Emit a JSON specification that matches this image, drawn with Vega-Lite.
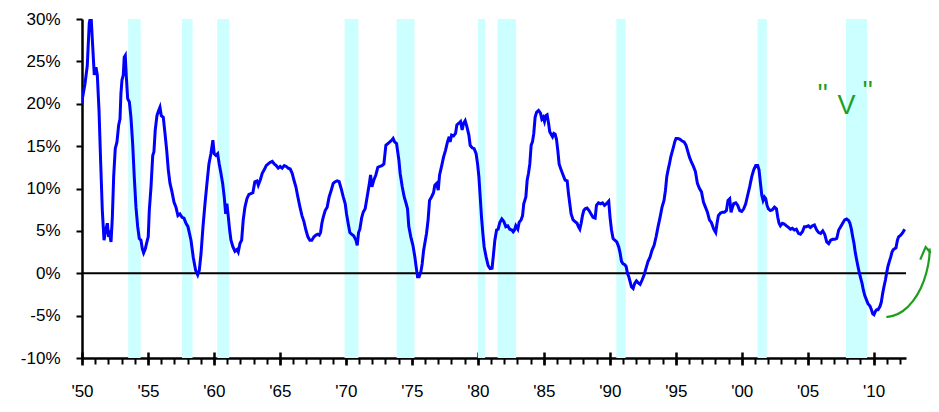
{
  "$schema": "https://vega.github.io/schema/vega-lite/v6.json",
  "width": 824,
  "height": 339,
  "autosize": {"type": "none"},
  "padding": {"left": 82, "top": 19, "right": 33, "bottom": 54},
  "background": "white",
  "config": {"view": {"stroke": null}},
  "resolve": {"scale": {"x": "independent"}, "axis": {"x": "independent"}},
  "datasets": {
    "recessions": [
      {"start": 1953.5, "end": 1954.45},
      {"start": 1957.58, "end": 1958.38},
      {"start": 1960.25, "end": 1961.15},
      {"start": 1969.9, "end": 1970.95},
      {"start": 1973.85, "end": 1975.2},
      {"start": 1980.0, "end": 1980.55},
      {"start": 1981.5, "end": 1982.9},
      {"start": 1990.5, "end": 1991.2},
      {"start": 2001.2, "end": 2001.9},
      {"start": 2007.9, "end": 2009.5}
    ],
    "series": [
      {"t":1950.0,"v":20.0},{"t":1950.05,"v":20.8},{"t":1950.23,"v":22.4},{"t":1950.4,"v":24.5},{"t":1950.55,"v":29.5},{"t":1950.68,"v":30.5},{"t":1950.8,"v":27.1},{"t":1950.93,"v":23.4},{"t":1951.06,"v":24.3},{"t":1951.16,"v":23.4},{"t":1951.29,"v":19.2},{"t":1951.41,"v":13.3},{"t":1951.54,"v":7.4},{"t":1951.67,"v":3.9},{"t":1951.8,"v":5.1},{"t":1951.92,"v":5.9},{"t":1952.02,"v":4.3},{"t":1952.1,"v":4.6},{"t":1952.2,"v":3.7},{"t":1952.3,"v":6.6},{"t":1952.4,"v":11.4},{"t":1952.52,"v":14.7},{"t":1952.65,"v":15.5},{"t":1952.78,"v":17.5},{"t":1952.88,"v":18.2},{"t":1952.95,"v":21.2},{"t":1953.03,"v":22.8},{"t":1953.13,"v":23.4},{"t":1953.2,"v":25.5},{"t":1953.28,"v":25.7},{"t":1953.36,"v":23.2},{"t":1953.46,"v":20.6},{"t":1953.59,"v":20.2},{"t":1953.71,"v":18.4},{"t":1953.84,"v":15.3},{"t":1953.96,"v":11.4},{"t":1954.09,"v":7.8},{"t":1954.22,"v":5.5},{"t":1954.34,"v":4.1},{"t":1954.47,"v":3.9},{"t":1954.57,"v":2.9},{"t":1954.67,"v":2.4},{"t":1954.8,"v":2.9},{"t":1954.92,"v":3.7},{"t":1955.02,"v":4.3},{"t":1955.1,"v":7.4},{"t":1955.23,"v":10.2},{"t":1955.36,"v":13.9},{"t":1955.45,"v":14.3},{"t":1955.55,"v":16.9},{"t":1955.68,"v":18.6},{"t":1955.81,"v":19.2},{"t":1955.91,"v":19.6},{"t":1956.01,"v":18.6},{"t":1956.16,"v":18.4},{"t":1956.29,"v":16.5},{"t":1956.42,"v":14.5},{"t":1956.54,"v":12.2},{"t":1956.67,"v":10.6},{"t":1956.82,"v":9.6},{"t":1956.97,"v":8.4},{"t":1957.12,"v":7.8},{"t":1957.27,"v":6.8},{"t":1957.42,"v":7.0},{"t":1957.58,"v":6.6},{"t":1957.73,"v":6.5},{"t":1957.88,"v":5.9},{"t":1958.03,"v":5.5},
      {"t":1958.26,"v":3.9},{"t":1958.43,"v":1.9},{"t":1958.61,"v":0.35},{"t":1958.77,"v":-0.2},{"t":1958.89,"v":0.35},{"t":1959.02,"v":2.3},{"t":1959.17,"v":5.5},{"t":1959.32,"v":8.2},{"t":1959.47,"v":10.6},{"t":1959.62,"v":12.9},{"t":1959.77,"v":14.1},{"t":1959.92,"v":15.7},{"t":1960.02,"v":14.1},{"t":1960.15,"v":13.9},{"t":1960.28,"v":14.1},{"t":1960.4,"v":12.9},{"t":1960.53,"v":11.8},{"t":1960.66,"v":10.6},{"t":1960.78,"v":9.0},{"t":1960.89,"v":7.0},{"t":1960.98,"v":8.2},{"t":1961.08,"v":6.8},{"t":1961.19,"v":5.1},{"t":1961.29,"v":3.9},{"t":1961.44,"v":3.1},{"t":1961.59,"v":2.6},{"t":1961.74,"v":2.8},{"t":1961.84,"v":2.5},{"t":1961.97,"v":3.5},{"t":1962.1,"v":3.9},{"t":1962.22,"v":6.3},{"t":1962.35,"v":7.8},{"t":1962.5,"v":8.8},{"t":1962.65,"v":9.3},{"t":1962.8,"v":9.4},{"t":1962.95,"v":9.5},{"t":1963.1,"v":10.8},{"t":1963.26,"v":10.9},{"t":1963.36,"v":10.4},{"t":1963.51,"v":11.0},{"t":1963.66,"v":11.8},{"t":1963.81,"v":12.2},{"t":1963.96,"v":12.7},{"t":1964.11,"v":12.9},{"t":1964.27,"v":13.1},{"t":1964.42,"v":13.2},{"t":1964.57,"v":12.9},{"t":1964.72,"v":12.7},{"t":1964.87,"v":12.4},{"t":1965.02,"v":12.6},{"t":1965.17,"v":12.4},{"t":1965.33,"v":12.7},{"t":1965.48,"v":12.6},{"t":1965.63,"v":12.4},{"t":1965.78,"v":12.3},{"t":1965.93,"v":11.8},
      {"t":1966.06,"v":11.0},{"t":1966.21,"v":10.2},{"t":1966.36,"v":9.0},{"t":1966.52,"v":7.8},{"t":1966.67,"v":6.8},{"t":1966.82,"v":6.1},{"t":1966.97,"v":5.1},{"t":1967.12,"v":4.3},{"t":1967.27,"v":3.9},{"t":1967.42,"v":3.9},{"t":1967.58,"v":4.3},{"t":1967.73,"v":4.5},{"t":1967.88,"v":4.6},{"t":1967.98,"v":4.5},{"t":1968.08,"v":4.8},{"t":1968.18,"v":5.9},{"t":1968.28,"v":6.6},{"t":1968.43,"v":7.4},{"t":1968.58,"v":7.8},{"t":1968.73,"v":9.0},{"t":1968.89,"v":9.8},{"t":1969.04,"v":10.6},{"t":1969.19,"v":10.8},{"t":1969.34,"v":10.9},{"t":1969.49,"v":10.8},{"t":1969.64,"v":10.0},{"t":1969.8,"v":9.0},{"t":1969.95,"v":8.2},{"t":1970.05,"v":7.0},{"t":1970.17,"v":5.9},{"t":1970.3,"v":4.8},{"t":1970.45,"v":4.6},{"t":1970.6,"v":4.4},{"t":1970.76,"v":3.9},{"t":1970.86,"v":3.3},{"t":1970.96,"v":4.8},{"t":1971.06,"v":5.2},{"t":1971.19,"v":6.5},{"t":1971.31,"v":7.2},{"t":1971.46,"v":7.6},{"t":1971.61,"v":9.0},{"t":1971.76,"v":10.4},{"t":1971.87,"v":11.6},{"t":1971.97,"v":10.2},{"t":1972.12,"v":11.0},{"t":1972.27,"v":11.6},{"t":1972.42,"v":12.5},{"t":1972.58,"v":12.6},{"t":1972.73,"v":12.7},{"t":1972.88,"v":12.9},{"t":1973.03,"v":15.1},{"t":1973.18,"v":15.3},{"t":1973.33,"v":15.5},{"t":1973.48,"v":15.7},{"t":1973.58,"v":15.9},{"t":1973.69,"v":15.5},{"t":1973.84,"v":15.3},
      {"t":1974.02,"v":13.3},{"t":1974.11,"v":11.8},{"t":1974.27,"v":10.2},{"t":1974.42,"v":9.0},{"t":1974.57,"v":8.2},{"t":1974.67,"v":7.6},{"t":1974.77,"v":5.5},{"t":1974.92,"v":4.3},{"t":1975.08,"v":3.3},{"t":1975.23,"v":1.9},{"t":1975.33,"v":0.7},{"t":1975.43,"v":-0.4},{"t":1975.55,"v":-0.4},{"t":1975.68,"v":0.15},{"t":1975.78,"v":1.1},{"t":1975.89,"v":2.7},{"t":1975.98,"v":3.5},{"t":1976.11,"v":4.7},{"t":1976.23,"v":6.3},{"t":1976.34,"v":8.6},{"t":1976.49,"v":9.0},{"t":1976.64,"v":9.5},{"t":1976.74,"v":10.4},{"t":1976.87,"v":10.6},{"t":1977.0,"v":9.8},{"t":1977.1,"v":11.6},{"t":1977.25,"v":12.6},{"t":1977.4,"v":13.7},{"t":1977.55,"v":14.5},{"t":1977.7,"v":15.5},{"t":1977.83,"v":16.1},{"t":1977.9,"v":15.5},{"t":1978.01,"v":16.3},{"t":1978.16,"v":16.2},{"t":1978.31,"v":16.5},{"t":1978.41,"v":17.5},{"t":1978.56,"v":17.7},{"t":1978.69,"v":17.9},{"t":1978.81,"v":16.9},{"t":1978.92,"v":17.7},{"t":1979.04,"v":18.0},{"t":1979.17,"v":17.3},{"t":1979.32,"v":16.3},{"t":1979.42,"v":15.1},{"t":1979.57,"v":14.8},{"t":1979.72,"v":14.7},{"t":1979.87,"v":14.1},{"t":1979.98,"v":12.9},{"t":1980.08,"v":11.4},{"t":1980.18,"v":9.0},{"t":1980.28,"v":6.6},{"t":1980.38,"v":4.7},{"t":1980.48,"v":3.1},{"t":1980.63,"v":1.9},{"t":1980.78,"v":0.9},{"t":1980.93,"v":0.55},{"t":1981.08,"v":0.6},{"t":1981.19,"v":2.3},{"t":1981.29,"v":3.9},{"t":1981.42,"v":5.1},{"t":1981.54,"v":5.2},
      {"t":1981.67,"v":6.0},{"t":1981.82,"v":6.4},{"t":1981.97,"v":6.1},{"t":1982.12,"v":5.5},{"t":1982.27,"v":5.6},{"t":1982.42,"v":5.2},{"t":1982.58,"v":5.1},{"t":1982.68,"v":4.9},{"t":1982.78,"v":5.1},{"t":1982.88,"v":5.6},{"t":1983.03,"v":5.2},{"t":1983.13,"v":6.0},{"t":1983.28,"v":6.3},{"t":1983.39,"v":6.8},{"t":1983.48,"v":8.2},{"t":1983.64,"v":9.0},{"t":1983.74,"v":11.0},{"t":1983.84,"v":11.8},{"t":1983.94,"v":12.9},{"t":1984.04,"v":15.1},{"t":1984.14,"v":15.5},{"t":1984.24,"v":16.5},{"t":1984.34,"v":18.4},{"t":1984.45,"v":19.0},{"t":1984.6,"v":19.2},{"t":1984.75,"v":18.9},{"t":1984.85,"v":18.2},{"t":1984.95,"v":18.4},{"t":1985.05,"v":17.9},{"t":1985.15,"v":18.6},{"t":1985.25,"v":18.7},{"t":1985.36,"v":17.7},{"t":1985.45,"v":16.7},{"t":1985.55,"v":16.4},{"t":1985.66,"v":16.1},{"t":1985.76,"v":16.5},{"t":1985.86,"v":16.4},{"t":1985.96,"v":15.8},{"t":1986.06,"v":14.5},{"t":1986.16,"v":12.9},{"t":1986.31,"v":12.2},{"t":1986.46,"v":11.6},{"t":1986.61,"v":11.0},{"t":1986.77,"v":10.9},{"t":1986.87,"v":9.4},{"t":1986.97,"v":8.2},{"t":1987.07,"v":7.0},{"t":1987.22,"v":6.3},{"t":1987.37,"v":6.1},{"t":1987.52,"v":5.9},{"t":1987.62,"v":5.5},{"t":1987.73,"v":5.2},{"t":1987.83,"v":5.9},{"t":1987.93,"v":6.8},{"t":1988.03,"v":7.4},{"t":1988.13,"v":7.6},{"t":1988.28,"v":7.7},{"t":1988.43,"v":7.4},{"t":1988.58,"v":7.0},{"t":1988.73,"v":6.6},{"t":1988.89,"v":6.5},{"t":1988.99,"v":8.0},{"t":1989.14,"v":8.3},{"t":1989.3,"v":8.2},{"t":1989.45,"v":8.3},{"t":1989.6,"v":8.0},{"t":1989.75,"v":8.2},{"t":1989.92,"v":8.5},
      {"t":1990.02,"v":6.6},{"t":1990.13,"v":5.1},{"t":1990.25,"v":4.1},{"t":1990.38,"v":3.9},{"t":1990.53,"v":3.7},{"t":1990.68,"v":3.1},{"t":1990.78,"v":2.4},{"t":1990.89,"v":1.4},{"t":1991.01,"v":1.1},{"t":1991.14,"v":1.0},{"t":1991.24,"v":0.8},{"t":1991.34,"v":0.0},{"t":1991.44,"v":-0.4},{"t":1991.54,"v":-1.0},{"t":1991.64,"v":-1.6},{"t":1991.77,"v":-1.8},{"t":1991.89,"v":-1.2},{"t":1992.02,"v":-0.9},{"t":1992.14,"v":-1.1},{"t":1992.3,"v":-1.3},{"t":1992.45,"v":-0.8},{"t":1992.6,"v":-0.2},{"t":1992.75,"v":0.6},{"t":1992.9,"v":1.4},{"t":1993.05,"v":1.9},{"t":1993.2,"v":2.7},{"t":1993.36,"v":3.3},{"t":1993.51,"v":4.3},{"t":1993.66,"v":5.5},{"t":1993.81,"v":6.6},{"t":1993.96,"v":7.8},{"t":1994.11,"v":8.6},{"t":1994.22,"v":9.8},{"t":1994.32,"v":11.4},{"t":1994.42,"v":12.2},{"t":1994.52,"v":12.9},{"t":1994.62,"v":13.7},{"t":1994.72,"v":14.3},{"t":1994.83,"v":14.9},{"t":1994.92,"v":15.5},{"t":1995.02,"v":15.9},{"t":1995.17,"v":15.9},{"t":1995.33,"v":15.8},{"t":1995.48,"v":15.6},{"t":1995.63,"v":15.5},{"t":1995.78,"v":15.1},{"t":1995.89,"v":14.5},{"t":1996.04,"v":13.7},{"t":1996.19,"v":13.1},{"t":1996.34,"v":12.6},{"t":1996.49,"v":12.0},{"t":1996.64,"v":10.6},{"t":1996.8,"v":10.0},{"t":1996.95,"v":9.6},{"t":1997.1,"v":8.4},{"t":1997.25,"v":7.8},{"t":1997.4,"v":7.2},{"t":1997.55,"v":6.3},{"t":1997.7,"v":6.0},
      {"t":1997.88,"v":5.2},{"t":1998.03,"v":4.8},{"t":1998.13,"v":5.9},{"t":1998.23,"v":6.8},{"t":1998.39,"v":7.1},{"t":1998.54,"v":7.2},{"t":1998.69,"v":7.2},{"t":1998.84,"v":7.4},{"t":1998.96,"v":8.6},{"t":1999.09,"v":8.8},{"t":1999.19,"v":7.2},{"t":1999.3,"v":7.8},{"t":1999.39,"v":8.2},{"t":1999.55,"v":8.3},{"t":1999.7,"v":8.0},{"t":1999.85,"v":7.4},{"t":2000.0,"v":7.3},{"t":2000.15,"v":7.6},{"t":2000.3,"v":8.2},{"t":2000.45,"v":9.2},{"t":2000.6,"v":10.2},{"t":2000.76,"v":11.4},{"t":2000.91,"v":12.2},{"t":2001.06,"v":12.7},{"t":2001.21,"v":12.7},{"t":2001.31,"v":12.2},{"t":2001.42,"v":10.6},{"t":2001.52,"v":9.2},{"t":2001.62,"v":8.6},{"t":2001.72,"v":9.0},{"t":2001.82,"v":8.8},{"t":2001.92,"v":8.0},{"t":2002.02,"v":7.6},{"t":2002.17,"v":7.4},{"t":2002.33,"v":7.5},{"t":2002.48,"v":7.8},{"t":2002.63,"v":7.6},{"t":2002.73,"v":6.6},{"t":2002.83,"v":5.9},{"t":2002.93,"v":5.6},{"t":2003.08,"v":5.9},{"t":2003.23,"v":5.8},{"t":2003.39,"v":5.6},{"t":2003.54,"v":5.4},{"t":2003.69,"v":5.2},{"t":2003.84,"v":5.3},{"t":2003.99,"v":5.1},{"t":2004.14,"v":5.2},{"t":2004.3,"v":4.7},{"t":2004.45,"v":4.6},{"t":2004.6,"v":4.9},{"t":2004.75,"v":5.5},{"t":2004.9,"v":5.5},{"t":2005.05,"v":5.6},{"t":2005.2,"v":5.4},{"t":2005.36,"v":5.6},{"t":2005.51,"v":5.7},
      {"t":2005.68,"v":5.1},{"t":2005.83,"v":4.8},{"t":2005.98,"v":4.7},{"t":2006.14,"v":5.0},{"t":2006.29,"v":4.6},{"t":2006.44,"v":3.7},{"t":2006.59,"v":3.5},{"t":2006.74,"v":3.9},{"t":2006.89,"v":4.0},{"t":2007.05,"v":4.0},{"t":2007.2,"v":4.1},{"t":2007.35,"v":5.1},{"t":2007.5,"v":5.5},{"t":2007.65,"v":5.9},{"t":2007.8,"v":6.3},{"t":2007.95,"v":6.4},{"t":2008.11,"v":6.2},{"t":2008.2,"v":5.9},{"t":2008.31,"v":5.2},{"t":2008.41,"v":4.3},{"t":2008.51,"v":3.5},{"t":2008.61,"v":2.4},{"t":2008.71,"v":1.6},{"t":2008.81,"v":0.8},{"t":2008.92,"v":0.0},{"t":2009.02,"v":-0.6},{"t":2009.12,"v":-1.2},{"t":2009.22,"v":-2.0},{"t":2009.32,"v":-2.6},{"t":2009.47,"v":-3.2},{"t":2009.57,"v":-3.6},{"t":2009.73,"v":-3.9},{"t":2009.83,"v":-4.3},{"t":2009.93,"v":-4.8},{"t":2010.02,"v":-4.9},{"t":2010.13,"v":-4.5},{"t":2010.23,"v":-4.3},{"t":2010.33,"v":-4.3},{"t":2010.48,"v":-3.9},{"t":2010.58,"v":-3.4},{"t":2010.68,"v":-2.4},{"t":2010.78,"v":-1.6},{"t":2010.89,"v":-0.8},{"t":2010.98,"v":0.0},{"t":2011.08,"v":0.8},{"t":2011.19,"v":1.4},{"t":2011.29,"v":1.9},{"t":2011.39,"v":2.5},{"t":2011.49,"v":2.8},{"t":2011.59,"v":2.9},{"t":2011.69,"v":3.0},{"t":2011.8,"v":3.9},{"t":2011.89,"v":4.3},{"t":2012.05,"v":4.5},{"t":2012.2,"v":4.8},{"t":2012.35,"v":5.2}
    ],
    "arrowCurve": [
      {"ax": 2010.96, "ay": -5.16, "o": 1},
      {"ax": 2011.46, "ay": -5.07, "o": 2},
      {"ax": 2012.22, "ay": -4.57, "o": 3},
      {"ax": 2012.98, "ay": -3.39, "o": 4},
      {"ax": 2013.61, "ay": -1.81, "o": 5},
      {"ax": 2014.04, "ay": 0.15, "o": 6},
      {"ax": 2014.24, "ay": 1.92, "o": 7},
      {"ax": 2014.24, "ay": 2.91, "o": 8}
    ],
    "arrowHead": [
      {"ax": 2013.53, "ay": 1.61, "o": 1},
      {"ax": 2013.94, "ay": 3.1, "o": 2},
      {"ax": 2014.32, "ay": 2.39, "o": 3}
    ],
    "notes": [
      {"nx": 2006.14, "ny": 21.0, "txt": "''"},
      {"nx": 2007.95, "ny": 19.7, "txt": "V"},
      {"nx": 2009.55, "ny": 21.4, "txt": "''"}
    ]
  },
  "layer": [
    {
      "data": {"name": "recessions"},
      "mark": {"type": "rect", "color": "#CCFFFF"},
      "encoding": {
        "x": {
          "field": "start", "type": "quantitative", "title": null,
          "scale": {"domain": [1950, 2012.45], "nice": false, "zero": false},
          "axis": {
            "orient": "bottom",
            "values": [1950,1951,1952,1953,1954,1955,1956,1957,1958,1959,1960,1961,1962,1963,1964,1965,1966,1967,1968,1969,1970,1971,1972,1973,1974,1975,1976,1977,1978,1979,1980,1981,1982,1983,1984,1985,1986,1987,1988,1989,1990,1991,1992,1993,1994,1995,1996,1997,1998,1999,2000,2001,2002,2003,2004,2005,2006,2007,2008,2009,2010,2011,2012],
            "labels": false,
            "ticks": true,
            "tickSize": 6,
            "tickColor": "black",
            "tickWidth": 2,
            "domain": true,
            "domainColor": "black",
            "domainWidth": 2.5,
            "grid": false
          }
        },
        "x2": {"field": "end"}
      }
    },
    {
      "data": {"values": [{"z": 0}]},
      "mark": {"type": "rule", "color": "black", "strokeWidth": 2},
      "encoding": {
        "y": {"field": "z", "type": "quantitative", "title": null, "scale": {"domain": [-10, 30], "nice": false, "zero": false}}
      }
    },
    {
      "data": {"name": "series"},
      "mark": {"type": "line", "color": "#0000FF", "strokeWidth": 3, "clip": true},
      "encoding": {
        "x": {
          "field": "t", "type": "quantitative", "title": null,
          "scale": {"domain": [1950, 2012.45], "nice": false, "zero": false},
          "axis": {
            "orient": "bottom",
            "values": [1950,1955,1960,1965,1970,1975,1980,1985,1990,1995,2000,2005,2010],
            "offset": -6,
            "labels": false,
            "ticks": true,
            "tickSize": 13,
            "tickColor": "black",
            "tickWidth": 2.5,
            "domain": false,
            "grid": false
          }
        },
        "y": {
          "field": "v", "type": "quantitative", "title": null,
          "scale": {"domain": [-10, 30], "nice": false, "zero": false},
          "axis": {
            "values": [-10, -5, 0, 5, 10, 15, 20, 25, 30],
            "labelExpr": "datum.value + '%'",
            "labelFont": "Liberation Sans",
            "labelFontSize": 17,
            "labelColor": "black",
            "labelPadding": 16,
            "labelFlush": false,
            "labelOverlap": false,
            "tickSize": 6,
            "tickColor": "black",
            "tickWidth": 2,
            "domainColor": "black",
            "domainWidth": 2.5,
            "grid": false
          }
        }
      }
    },
    {
      "data": {"name": "arrowCurve"},
      "mark": {"type": "line", "color": "#1E9E1E", "strokeWidth": 2.2, "interpolate": "basis", "clip": false},
      "encoding": {
        "x": {
          "field": "ax", "type": "quantitative", "title": null,
          "scale": {"domain": [1950, 2012.45], "nice": false, "zero": false},
          "axis": {
            "orient": "bottom",
            "values": [1950,1955,1960,1965,1970,1975,1980,1985,1990,1995,2000,2005,2010],
            "labelExpr": "\"'\" + substring(toString(datum.value), 2, 4)",
            "labelOverlap": false,
            "labelFlush": false,
            "labelFont": "Liberation Sans",
            "labelFontSize": 17,
            "labelColor": "black",
            "labelPadding": 25,
            "ticks": false,
            "domain": false,
            "grid": false
          }
        },
        "y": {"field": "ay", "type": "quantitative", "title": null, "scale": {"domain": [-10, 30], "nice": false, "zero": false}},
        "order": {"field": "o"}
      }
    },
    {
      "data": {"name": "arrowHead"},
      "mark": {"type": "line", "color": "#1E9E1E", "strokeWidth": 2.2, "clip": false},
      "encoding": {
        "x": {"field": "ax", "type": "quantitative", "title": null, "scale": {"domain": [1950, 2012.45], "nice": false, "zero": false}, "axis": null},
        "y": {"field": "ay", "type": "quantitative", "title": null, "scale": {"domain": [-10, 30], "nice": false, "zero": false}},
        "order": {"field": "o"}
      }
    },
    {
      "data": {"name": "notes"},
      "mark": {"type": "text", "color": "#1E9E1E", "font": "Liberation Sans", "fontSize": 27, "baseline": "middle", "align": "center", "clip": false},
      "encoding": {
        "x": {"field": "nx", "type": "quantitative", "title": null, "scale": {"domain": [1950, 2012.45], "nice": false, "zero": false}, "axis": null},
        "y": {"field": "ny", "type": "quantitative", "title": null, "scale": {"domain": [-10, 30], "nice": false, "zero": false}},
        "text": {"field": "txt"}
      }
    }
  ]
}
